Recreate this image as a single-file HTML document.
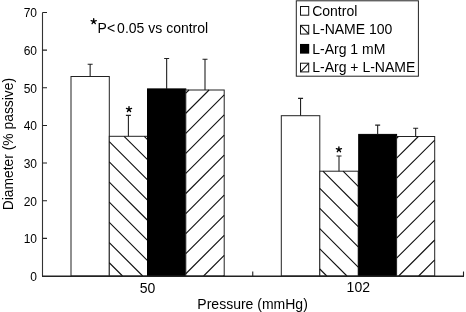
<!DOCTYPE html>
<html><head><meta charset="utf-8"><style>
html,body{margin:0;padding:0;background:#fff;}
body{width:466px;height:312px;overflow:hidden;font-family:"Liberation Sans",sans-serif;}
svg{display:block;will-change:transform;}
</style></head><body>
<svg width="466" height="312" viewBox="0 0 466 312">
<rect width="466" height="312" fill="#fff"/>
<rect x="71.0" y="76.5" width="38.30" height="199.50" fill="#fff" stroke="#222" stroke-width="1"/>
<path d="M90.15 76.5V64.3M87.65 64.3H92.65" stroke="#222" stroke-width="1.1" fill="none"/>
<rect x="109.3" y="136.3" width="38.20" height="139.70" fill="#fff" stroke="#222" stroke-width="1"/>
<path d="M144.28 136.3L147.5 139.52 M124.1 136.3L147.5 159.7 M109.3 141.68L147.5 179.88 M109.3 161.86L147.5 200.06 M109.3 182.04L147.5 220.24 M109.3 202.22L147.5 240.42 M109.3 222.4L147.5 260.6 M109.3 242.58L142.72 276.0 M109.3 262.76L122.54 276.0" stroke="#111" stroke-width="1.1" fill="none"/>
<path d="M128.40 136.3V115.35M125.90 115.35H130.90" stroke="#222" stroke-width="1.1" fill="none"/>
<rect x="147.5" y="88.9" width="38.30" height="187.10" fill="#000" stroke="#000" stroke-width="1"/>
<path d="M166.65 88.9V58.5M164.15 58.5H169.15" stroke="#222" stroke-width="1.1" fill="none"/>
<rect x="185.8" y="90.0" width="38.40" height="186.00" fill="#fff" stroke="#222" stroke-width="1"/>
<path d="M185.8 93.2L189.0 90.0 M185.8 113.26L209.06 90.0 M185.8 133.32L224.2 94.92 M185.8 153.38L224.2 114.98 M185.8 173.44L224.2 135.04 M185.8 193.5L224.2 155.1 M185.8 213.56L224.2 175.16 M185.8 233.62L224.2 195.22 M185.8 253.68L224.2 215.28 M185.8 273.74L224.2 235.34 M203.6 276.0L224.2 255.4 M223.66 276.0L224.2 275.46" stroke="#111" stroke-width="1.1" fill="none"/>
<path d="M205.00 90.0V59.3M202.50 59.3H207.50" stroke="#222" stroke-width="1.1" fill="none"/>
<rect x="281.3" y="115.7" width="38.50" height="160.30" fill="#fff" stroke="#222" stroke-width="1"/>
<path d="M300.55 115.7V98.4M298.05 98.4H303.05" stroke="#222" stroke-width="1.1" fill="none"/>
<rect x="319.8" y="171.2" width="38.40" height="104.80" fill="#fff" stroke="#222" stroke-width="1"/>
<path d="M343.08 171.2L358.2 186.32 M322.9 171.2L358.2 206.5 M319.8 188.28L358.2 226.68 M319.8 208.46L358.2 246.86 M319.8 228.64L358.2 267.04 M319.8 248.82L346.98 276.0 M319.8 269.0L326.8 276.0" stroke="#111" stroke-width="1.1" fill="none"/>
<path d="M339.00 171.2V156.0M336.50 156.0H341.50" stroke="#222" stroke-width="1.1" fill="none"/>
<rect x="358.7" y="134.4" width="37.90" height="141.60" fill="#000" stroke="#000" stroke-width="1"/>
<path d="M377.65 134.4V125.1M375.15 125.1H380.15" stroke="#222" stroke-width="1.1" fill="none"/>
<rect x="396.6" y="136.5" width="38.10" height="139.50" fill="#fff" stroke="#222" stroke-width="1"/>
<path d="M396.6 138.24L398.34 136.5 M396.6 158.22L418.32 136.5 M396.6 178.2L434.7 140.1 M396.6 198.18L434.7 160.08 M396.6 218.16L434.7 180.06 M396.6 238.14L434.7 200.04 M396.6 258.12L434.7 220.02 M398.7 276.0L434.7 240.0 M418.68 276.0L434.7 259.98" stroke="#111" stroke-width="1.1" fill="none"/>
<path d="M415.65 136.5V128.3M413.15 128.3H418.15" stroke="#222" stroke-width="1.1" fill="none"/>
<path d="M42.5 12.5V276.3" stroke="#333" stroke-width="1.1" fill="none"/>
<path d="M42.0 276.3H464.0" stroke="#222" stroke-width="1.4" fill="none"/>
<path d="M42.5 238.36H47.0 M42.5 200.71H47.0 M42.5 163.07H47.0 M42.5 125.43H47.0 M42.5 87.79H47.0 M42.5 50.14H47.0 M42.5 12.50H47.0 M252.75 276.0V271.5 M463.5 276.0V271.5" stroke="#222" stroke-width="1.1" fill="none"/>
<text x="37" y="280.85" text-anchor="end" font-size="12" font-family="Liberation Sans, sans-serif">0</text>
<text x="37" y="243.21" text-anchor="end" font-size="12" font-family="Liberation Sans, sans-serif">10</text>
<text x="37" y="205.56" text-anchor="end" font-size="12" font-family="Liberation Sans, sans-serif">20</text>
<text x="37" y="167.92" text-anchor="end" font-size="12" font-family="Liberation Sans, sans-serif">30</text>
<text x="37" y="130.28" text-anchor="end" font-size="12" font-family="Liberation Sans, sans-serif">40</text>
<text x="37" y="92.64" text-anchor="end" font-size="12" font-family="Liberation Sans, sans-serif">50</text>
<text x="37" y="54.99" text-anchor="end" font-size="12" font-family="Liberation Sans, sans-serif">60</text>
<text x="37" y="17.35" text-anchor="end" font-size="12" font-family="Liberation Sans, sans-serif">70</text>
<text x="147.6" y="292.8" text-anchor="middle" font-size="14" font-family="Liberation Sans, sans-serif">50</text>
<text x="358.3" y="292.4" text-anchor="middle" font-size="14" font-family="Liberation Sans, sans-serif">102</text>
<text x="252.6" y="309.1" text-anchor="middle" font-size="14" font-family="Liberation Sans, sans-serif">Pressure (mmHg)</text>
<text transform="translate(13.2 144.1) rotate(-90)" x="0" y="0" text-anchor="middle" font-size="13.85" font-family="Liberation Sans, sans-serif">Diameter (% passive)</text>
<path d="M93.70 21.40L93.70 18.70M93.70 21.40L96.27 20.57M93.70 21.40L95.29 23.58M93.70 21.40L92.11 23.58M93.70 21.40L91.13 20.57" stroke="#000" stroke-width="1.35" stroke-linecap="round" fill="none"/>
<text x="97.6" y="32.8" font-size="14" font-family="Liberation Sans, sans-serif">P&lt;<tspan dx="2">0.05 vs control</tspan></text>
<path d="M129.00 109.30L129.00 106.60M129.00 109.30L131.57 108.47M129.00 109.30L130.59 111.48M129.00 109.30L127.41 111.48M129.00 109.30L126.43 108.47" stroke="#000" stroke-width="1.35" stroke-linecap="round" fill="none"/>
<path d="M338.90 149.50L338.90 146.80M338.90 149.50L341.47 148.67M338.90 149.50L340.49 151.68M338.90 149.50L337.31 151.68M338.90 149.50L336.33 148.67" stroke="#000" stroke-width="1.35" stroke-linecap="round" fill="none"/>
<rect x="296.3" y="0.8" width="122.1" height="75.4" fill="#fff" stroke="#222" stroke-width="1"/>
<rect x="300.5" y="6.50" width="8.2" height="8.7" fill="#fff" stroke="#111" stroke-width="1"/>
<text x="312.2" y="16" font-size="14" font-family="Liberation Sans, sans-serif">Control</text>
<rect x="300.5" y="25.35" width="8.2" height="8.7" fill="#fff" stroke="#111" stroke-width="1"/>
<path d="M300.6 25.45L308.6 33.95" stroke="#111" stroke-width="1.15"/>
<text x="312.2" y="34" font-size="14" font-family="Liberation Sans, sans-serif">L-NAME 100</text>
<rect x="300" y="43.95" width="9.2" height="9.7" fill="#000"/>
<text x="312.2" y="54" font-size="14" font-family="Liberation Sans, sans-serif">L-Arg 1 mM</text>
<rect x="300.5" y="63.20" width="8.2" height="8.7" fill="#fff" stroke="#111" stroke-width="1"/>
<path d="M300.6 71.80L308.6 63.30" stroke="#111" stroke-width="1.15"/>
<text x="312.2" y="72" font-size="14" font-family="Liberation Sans, sans-serif">L-Arg + L-NAME</text>
</svg>
</body></html>
